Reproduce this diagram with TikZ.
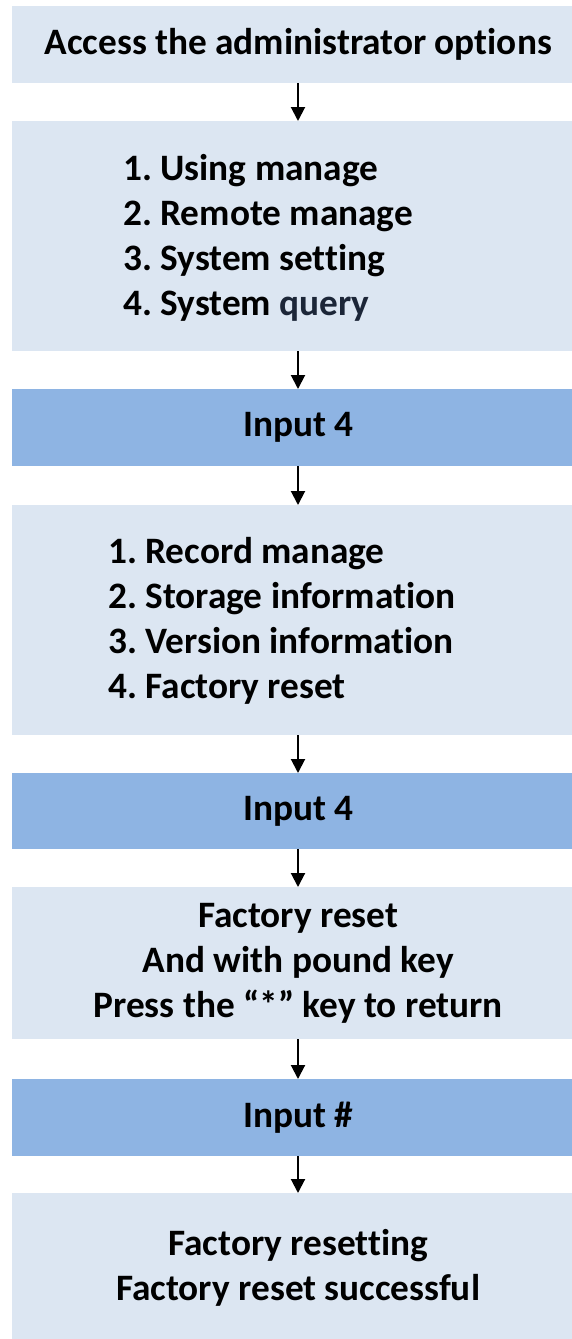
\documentclass[tikz,border=0pt]{standalone}
\usepackage{fontspec}
\setmainfont{Carlito}[RawFeature=-liga]
\usetikzlibrary{arrows.meta}
\definecolor{lightbox}{HTML}{DCE6F2}
\definecolor{darkbox}{HTML}{8EB4E3}
\definecolor{navy}{HTML}{1C2638}
\frenchspacing
\tikzset{
  boxbase/.style={rectangle, draw=none, anchor=north west, minimum width=572pt, inner sep=0pt, font=\bfseries\fontsize{37.3}{45}\selectfont, align=center},
  lbox/.style={boxbase, fill=lightbox},
  dbox/.style={boxbase, fill=darkbox},
  listtext/.style={anchor=west, inner sep=0pt, align=left, font=\bfseries\fontsize{37.3}{45}\selectfont},
  arr/.style={line width=2pt, -{Triangle[width=14pt,length=14pt]}}
}
\begin{document}
\begin{tikzpicture}[x=1pt,y=-1pt]
\useasboundingbox (0,0) rectangle (572,1339);
\node[lbox, minimum height=77pt] (b1) at (12,6) {Access the administrator options};
\node[lbox, minimum height=230pt] (b2) at (12,121) {};
\node[listtext] (t2) at (123,238) {1. Using manage\\2. Remote manage\\3. System setting\\4. System \textcolor{navy}{query}};
\node[dbox, minimum height=77pt] (b3) at (12,389) {Input 4};
\node[lbox, minimum height=230pt] (b4) at (12,505) {};
\node[listtext] (t4) at (108,621) {1. Record manage\\2. Storage information\\3. Version information\\4. Factory reset};
\node[dbox, minimum height=76pt] (b5) at (12,773) {Input 4};
\node[lbox, minimum height=152pt] (b6) at (12,887) {Factory reset\\And with pound key\\Press the “*” key to return};
\node[dbox, minimum height=77pt] (b7) at (12,1079) {Input \#};
\node[lbox, minimum height=150pt] (b8) at (12,1193) {Factory resetting\\Factory reset successful};
\coordinate (ax) at (298,0);
\draw[arr] (b1.south -| ax) -- (b2.north -| ax);
\draw[arr] (b2.south -| ax) -- (b3.north -| ax);
\draw[arr] (b3.south -| ax) -- (b4.north -| ax);
\draw[arr] (b4.south -| ax) -- (b5.north -| ax);
\draw[arr] (b5.south -| ax) -- (b6.north -| ax);
\draw[arr] (b6.south -| ax) -- (b7.north -| ax);
\draw[arr] (b7.south -| ax) -- (b8.north -| ax);
\end{tikzpicture}
\end{document}
